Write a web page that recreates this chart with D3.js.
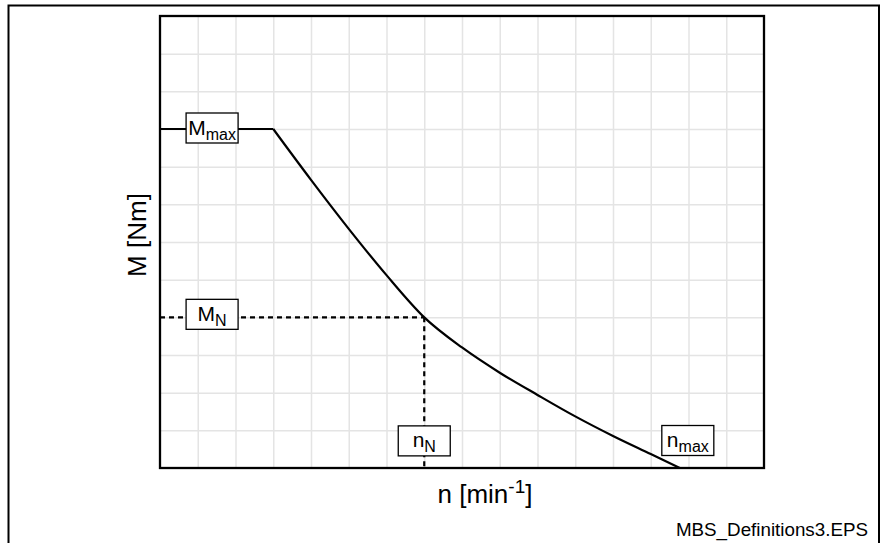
<!DOCTYPE html>
<html>
<head>
<meta charset="utf-8">
<script src="https://cdn.jsdelivr.net/npm/d3@7"></script>
<style>
  body { margin: 0; background: #fff; }
  text { font-family: "Liberation Sans", Arial, Helvetica, sans-serif; fill: #000; }
</style>
</head>
<body>
<div id="chart_div"></div>
<script>
// torque / speed characteristic (grid units)
const speed_values  = [3, 4, 5, 6, 7, 8, 9, 10, 11, 12, 13, 13.77];
const torque_values = [9, 7.65, 6.35, 5.12, 4, 3.2, 2.53, 1.94, 1.37, 0.85, 0.37, 0];
const grid_cols = d3.range(1, 16);
const grid_rows = d3.range(1, 12);
const m_max = 9, m_n = 4, n_n = 7, n_max = 13.77;

const chart_margin = {top: 16, right: 118, bottom: 75, left: 160},
    chart_width = 882 - chart_margin.left - chart_margin.right,
    chart_height = 543 - chart_margin.top - chart_margin.bottom;

const svg = d3.select("#chart_div")
  .append("svg")
    .attr("width", 882)
    .attr("height", 543);

// outer frame (open at the bottom)
svg.append("path")
  .attr("d", "M8.5,543 L8.5,5.5 L879,5.5 L879,543")
  .attr("fill", "none")
  .attr("stroke", "#000")
  .attr("stroke-width", 2);

const g = svg.append("g")
  .attr("transform", `translate(${chart_margin.left}, ${chart_margin.top})`);

const x = d3.scaleLinear().domain([0, 16]).range([0, chart_width]);
const y = d3.scaleLinear().domain([0, 12]).range([chart_height, 0]);

// grid
g.append("g")
  .attr("class", "grid")
  .attr("transform", `translate(0, ${chart_height})`)
  .call(d3.axisBottom(x).tickValues(grid_cols).tickSize(-chart_height).tickFormat(""));
g.append("g")
  .attr("class", "grid")
  .call(d3.axisLeft(y).tickValues(grid_rows).tickSize(-chart_width).tickFormat(""));
g.selectAll(".grid .domain").remove();
g.selectAll(".grid line").attr("stroke", "#e4e4e4").attr("stroke-width", 1.5);

// plot frame
g.append("rect")
  .attr("x", 0).attr("y", 0)
  .attr("width", chart_width).attr("height", chart_height)
  .attr("fill", "none").attr("stroke", "#000").attr("stroke-width", 2.3);

// dashed rated point lines
g.append("line")
  .attr("x1", 0).attr("x2", x(n_n))
  .attr("y1", y(m_n)).attr("y2", y(m_n))
  .attr("stroke", "#000").attr("stroke-width", 2.2).attr("stroke-dasharray", "5,4");
g.append("line")
  .attr("x1", x(n_n)).attr("x2", x(n_n))
  .attr("y1", y(m_n)).attr("y2", chart_height)
  .attr("stroke", "#000").attr("stroke-width", 2.2).attr("stroke-dasharray", "5,4");

// constant torque part
g.append("line")
  .attr("x1", x(0)).attr("x2", x(speed_values[0]))
  .attr("y1", y(m_max)).attr("y2", y(m_max))
  .attr("stroke", "#000").attr("stroke-width", 2.2);

// falling part
const line = d3.line()
  .x((d, i) => x(speed_values[i]))
  .y((d, i) => y(torque_values[i]))
  .curve(d3.curveMonotoneX);
g.append("path")
  .datum(speed_values)
  .attr("d", line)
  .attr("fill", "none")
  .attr("stroke", "#000")
  .attr("stroke-width", 2.2);

// boxed labels
function boxLabel(cx, cy, main, sub) {
  const lg = g.append("g").attr("transform", `translate(${cx}, ${cy})`);
  lg.append("rect")
    .attr("x", -26).attr("y", -15)
    .attr("width", 52).attr("height", 30)
    .attr("fill", "#fff").attr("stroke", "#000").attr("stroke-width", 1.3);
  const t = lg.append("text")
    .attr("text-anchor", "middle")
    .attr("y", 6.5)
    .style("font-size", "21px");
  t.append("tspan").text(main);
  t.append("tspan").attr("dy", 5).style("font-size", "16px").text(sub);
}
boxLabel(x(1.38), y(m_max) - 1, "M", "max");
boxLabel(x(1.38), y(m_n) - 3, "M", "N");
boxLabel(x(n_n), y(0.72), "n", "N");
boxLabel(x(n_max) + 8, y(0.73), "n", "max");

// axis titles
g.append("text")
  .attr("text-anchor", "middle")
  .attr("transform", `translate(-14, ${chart_height / 2 - 7}) rotate(-90)`)
  .style("font-size", "26px")
  .text("M [Nm]");

const xt = g.append("text")
  .attr("text-anchor", "middle")
  .attr("x", chart_width / 2 + 23)
  .attr("y", chart_height + 35)
  .style("font-size", "26px");
xt.append("tspan").text("n [min");
xt.append("tspan").attr("dy", -10).style("font-size", "19px").text("-1");
xt.append("tspan").attr("dy", 10).text("]");

svg.append("text")
  .attr("text-anchor", "end")
  .attr("x", 868)
  .attr("y", 536)
  .style("font-size", "18.8px")
  .text("MBS_Definitions3.EPS");
</script>
</body>
</html>
